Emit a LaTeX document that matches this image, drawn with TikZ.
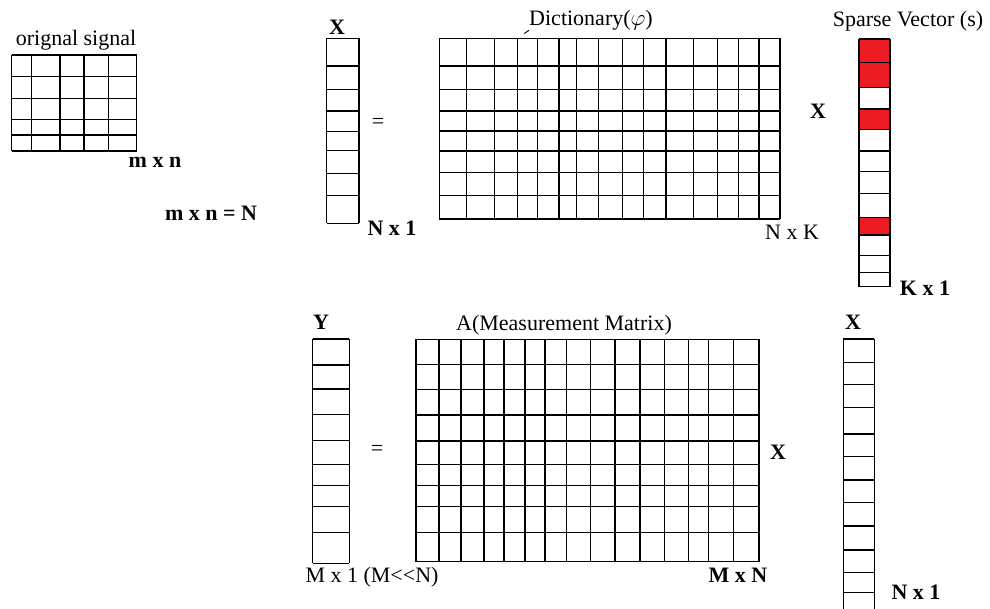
\documentclass[tikz,border=0pt]{standalone}
\usepackage{fontspec}
\setmainfont{Liberation Serif}
\definecolor{sparsered}{RGB}{237,28,36}
\tikzset{
  cell/.style={line width=0.9pt},
  lbl/.style={font=\fontsize{16.5}{18}\selectfont, inner sep=0pt},
  dim/.style={lbl, font=\fontsize{16.5}{18}\selectfont\bfseries}
}

\begin{document}
\begin{tikzpicture}[x=0.75pt,y=-0.75pt]
\clip (0,0) rectangle (990,608);
% orignal signal
\foreach \x in {11.7,31.7,60,84,108.3,136.7} \draw[cell] (\x,55) -- (\x,151);
\foreach \y in {55,76.7,98.3,119.3,135,151} \draw[cell] (11.7,\y) -- (136.7,\y);
\node[lbl] (sig) at (76,40) {orignal signal};
\node[dim] (mn) at (155,162) {m x n};
\node[dim] (mnN) at (211,213) {m x n = N};
% X = Dictionary x Sparse vector
\foreach \x in {326.7,359} \draw[cell] (\x,38.3) -- (\x,223.3);
\foreach \y in {38.3,66,89.3,111,131.7,150.7,173.3,195.7,223.3} \draw[cell] (326.7,\y) -- (359,\y);
\node[dim] (xtop) at (337,27) {X};
\node[lbl] (eqtop) at (378,123) {=};
\node[dim] (xdim) at (392,228) {N x 1};
\foreach \x in {439.3,466.7,494.3,517.3,537.7,559,576.7,598.3,622.3,643.3,666,693.3,717.3,738.3,759,780}
  \draw[cell] (\x,38.3) -- (\x,219);
\foreach \y in {38.3,66,89.3,111,131,151,172.7,195.7,219} \draw[cell] (439.3,\y) -- (780,\y);
\node[lbl] (dict) at (591,20) {Dictionary($\varphi$)};
\coordinate (lead) at (524.3,33.5);
\draw[line width=0.7pt] (lead) -- (dict.south west);
\node[dim] (times1) at (818,111) {X};
\node[lbl] (dictdim) at (792,232) {N x K};
\foreach \a/\b in {39/62.3,62.3/87.3,109/129.3,217.3/235} \fill[sparsered] (859,\a) rectangle (890,\b);
\foreach \x in {859,890} \draw[cell] (\x,39) -- (\x,286.7);
\foreach \y in {39,62.3,87.3,109,129.3,151,171.7,193.3,217.3,235,255.7,272.7,286.7} \draw[cell] (859,\y) -- (890,\y);
\node[lbl] (sparse) at (908,21) {Sparse Vector (s)};
\node[dim] (sdim) at (925,288) {K x 1};
% Y = A x X
\foreach \x in {312.7,349.3} \draw[cell] (\x,339) -- (\x,563.3);
\foreach \y in {339,365,389,414.3,440.7,464.3,485.7,506.7,532.3,563.3} \draw[cell] (312.7,\y) -- (349.3,\y);
\node[dim] (y) at (321,322) {Y};
\node[lbl] (eqbot) at (377,450) {=};
\node[lbl] (ydim) at (372,577) {M x 1 (M<{}<N)};
\foreach \x in {416,439,461,484,504,525,545,566.7,590.7,615,640,664.3,688.3,708.3,733.3,759}
  \draw[cell] (\x,339.3) -- (\x,561.7);
\foreach \y in {339.3,364.3,389.3,415,441,464.3,485.7,506.7,532.3,561.7} \draw[cell] (416,\y) -- (759,\y);
\node[lbl] (meas) at (564,325) {A(Measurement Matrix)};
\node[dim] (times2) at (778,452) {X};
\node[dim] (adim) at (738,575) {M x N};
\foreach \x in {843.3,874.3} \draw[cell] (\x,339) -- (\x,615);
\foreach \y in {339,362.3,384.3,407.3,434,456.7,480,502.3,526,550,572.7,592.7} \draw[cell] (843.3,\y) -- (874.3,\y);
\node[dim] (xbot) at (853,322) {X};
\node[dim] (xbdim) at (916,592) {N x 1};
\end{tikzpicture}
\end{document}
